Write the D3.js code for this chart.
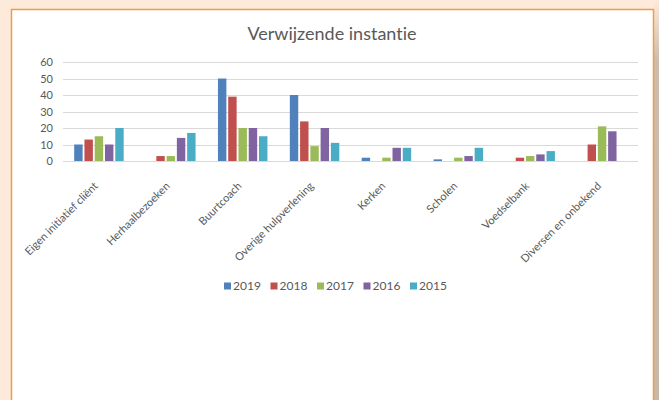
<!DOCTYPE html>
<html>
<head>
    <meta charset="utf-8">
    <title>Verwijzende instantie</title>
    <script src="https://d3js.org/d3.v7.min.js"></script>
    <style>
        body { margin: 0; background: #fdeada; overflow: hidden; }
        text { font-family: Lato, 'Open Sans', sans-serif; fill: #595959; font-variant-ligatures: none; }
        .grid line { stroke: #d9d9d9; }
    </style>
</head>
<body>
<script>
    // data
    var categories = ["Eigen initiatief cliënt", "Herhaalbezoeken", "Buurtcoach", "Overige hulpverlening",
                      "Kerken", "Scholen", "Voedselbank", "Diversen en onbekend"];
    var years = ["2019", "2018", "2017", "2016", "2015"];
    var v2019 = [10, 0, 50, 40, 2, 1, 0, 0];
    var v2018 = [13, 3, 39, 24, 0, 0, 2, 10];
    var v2017 = [15, 3, 20, 9, 2, 2, 3, 21];
    var v2016 = [10, 14, 20, 20, 8, 3, 4, 18];
    var v2015 = [20, 17, 15, 11, 8, 8, 6, 0];
    var yTicks = [0, 10, 20, 30, 40, 50, 60];
    var colors = ["#4f81bd", "#c0504d", "#9bbb59", "#8064a2", "#4bacc6"];

    var series = [v2019, v2018, v2017, v2016, v2015];

    var W = 659, H = 400;
    var svg = d3.select("body").append("svg")
        .attr("width", W)
        .attr("height", H);

    // shadow on the right and the framed white card
    var grad = svg.append("defs").append("linearGradient")
        .attr("id", "shade").attr("x1", 0).attr("x2", 0).attr("y1", 0).attr("y2", 1);
    grad.append("stop").attr("offset", "0").attr("stop-color", "#fdeada");
    grad.append("stop").attr("offset", "0.15").attr("stop-color", "#cdbcae");
    grad.append("stop").attr("offset", "1").attr("stop-color", "#c8b8aa");
    svg.append("rect").attr("x", 654).attr("y", 0).attr("width", 5).attr("height", H)
        .attr("fill", "url(#shade)");
    svg.append("rect")
        .attr("x", 11.5).attr("y", 9.5)
        .attr("width", 642).attr("height", 400)
        .attr("fill", "#fff")
        .attr("stroke", "#f39a45")
        .attr("stroke-width", 1.5);

    var margin = { left: 63, right: 21, top: 62, bottom: 161 };

    var x0 = d3.scaleBand()
        .domain(categories)
        .range([margin.left, W - margin.right])
        .paddingInner(0.26)
        .paddingOuter(0.13);

    var x1 = d3.scaleBand()
        .domain(years)
        .range([0, x0.bandwidth()])
        .padding(0.18);

    var y = d3.scaleLinear()
        .domain([0, 60])
        .range([margin.bottom, margin.top]);

    // title
    svg.append("text")
        .attr("x", 332).attr("y", 40)
        .attr("text-anchor", "middle")
        .style("font-size", "18px")
        .text("Verwijzende instantie");

    // gridlines
    svg.append("g").attr("class", "grid")
        .selectAll("line")
        .data(yTicks)
        .enter().append("line")
        .attr("x1", margin.left).attr("x2", W - margin.right)
        .attr("y1", function(d) { return Math.round(y(d)) + 0.5; })
        .attr("y2", function(d) { return Math.round(y(d)) + 0.5; });

    // y axis labels
    var yAxis = svg.append("g")
        .attr("transform", "translate(" + margin.left + ",0)")
        .call(d3.axisLeft(y).tickValues(yTicks).tickSize(0).tickPadding(10));
    yAxis.select(".domain").remove();
    yAxis.selectAll("text").style("font-size", "11px").style("fill", "#595959")
        .style("font-family", "Lato, 'Open Sans', sans-serif");

    // bars
    var groups = svg.append("g")
        .selectAll("g")
        .data(series)
        .enter().append("g")
        .attr("fill", function(d, i) { return colors[i]; });

    groups.selectAll("rect")
        .data(function(d, i) {
            return d.map(function(v, j) { return { cat: categories[j], year: years[i], value: v }; });
        })
        .enter().append("rect")
        .filter(function(d) { return d.value > 0; })
        .attr("x", function(d) { return x0(d.cat) + x1(d.year); })
        .attr("width", x1.bandwidth())
        .attr("y", function(d) { return y(d.value); })
        .attr("height", function(d) { return y(0) - y(d.value); });

    // x axis labels, rotated
    var xAxis = svg.append("g")
        .attr("transform", "translate(0," + (margin.bottom + 4) + ")")
        .call(d3.axisBottom(x0).tickSize(0).tickPadding(0));
    xAxis.select(".domain").remove();
    xAxis.selectAll("text")
        .style("font-size", "11px").style("fill", "#595959")
        .style("font-family", "Lato, 'Open Sans', sans-serif")
        .attr("text-anchor", "end")
        .attr("dy", "0.35em")
        .attr("transform", "translate(-3,19) rotate(-45)");

    // legend
    var legend = svg.append("g")
        .selectAll("g")
        .data(years)
        .enter().append("g")
        .attr("transform", function(d, i) { return "translate(" + (224 + i * 46.5) + ",286)"; });
    legend.append("rect")
        .attr("x", 0).attr("y", -3.5)
        .attr("width", 7).attr("height", 7)
        .attr("fill", function(d, i) { return colors[i]; });
    legend.append("text")
        .attr("x", 9).attr("y", 0)
        .attr("dy", "0.35em")
        .style("font-size", "12px")
        .text(function(d) { return d; });
</script>
</body>
</html>
